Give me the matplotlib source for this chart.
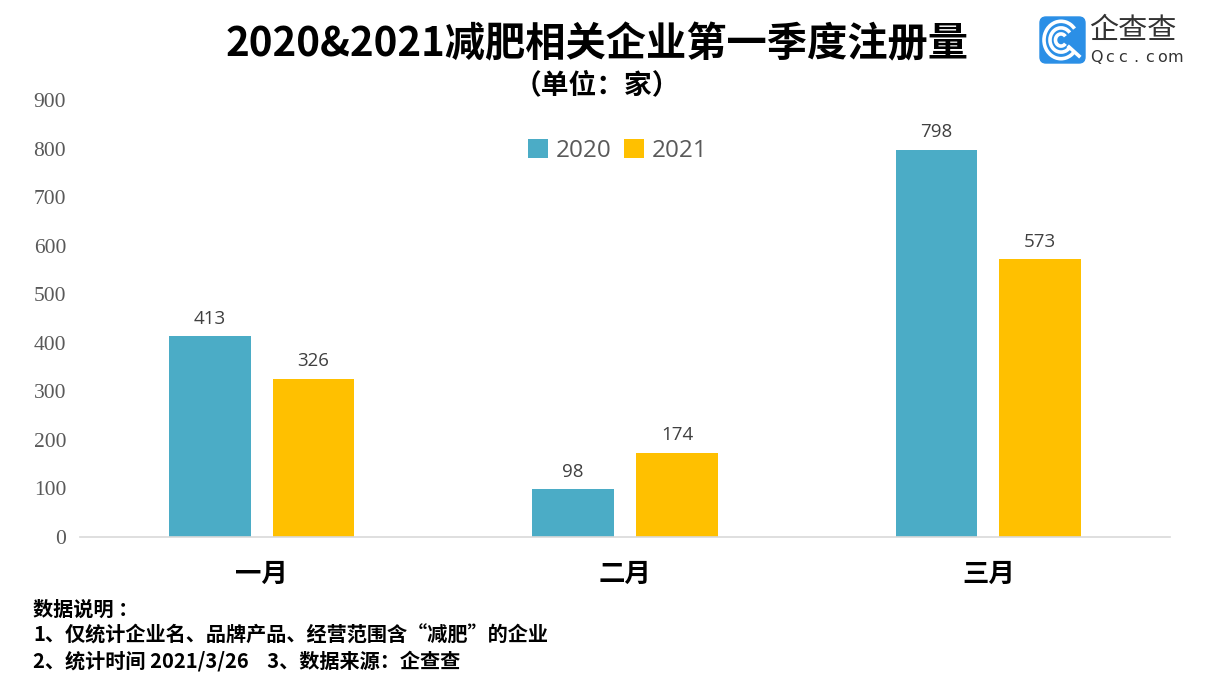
import matplotlib
matplotlib.use("Agg")
import matplotlib.pyplot as plt
import numpy as np
from matplotlib.patches import FancyBboxPatch, Arc

plt.rcParams['font.family'] = ['Noto Sans CJK SC', 'DejaVu Sans']

# datos
meses = ["一月", "二月", "三月"]
serie_2020 = [413, 98, 798]
serie_2021 = [326, 174, 573]
anios = ["2020", "2021"]
yticks = [0, 100, 200, 300, 400, 500, 600, 700, 800, 900]

c2020 = "#4BACC6"
c2021 = "#FFC000"

fig = plt.figure(figsize=(12.1, 6.99), dpi=100)
ax = fig.add_axes([80/1210, 162/699, 1090/1210, 437/699])

x = np.arange(len(meses))
w = 0.225
b1 = ax.bar(x - 0.143, serie_2020, width=w, color=c2020, label=anios[0], zorder=2)
b2 = ax.bar(x + 0.143, serie_2021, width=w, color=c2021, label=anios[1], zorder=2)

for barras in (b1, b2):
    for r in barras:
        ax.text(r.get_x() + r.get_width()/2, r.get_height() + 17, str(int(r.get_height())),
                ha="center", va="bottom", fontsize=13.5, color="#404040",
                family=["Open Sans", "DejaVu Sans"])

ax.set_xlim(-0.5, 2.5)
ax.set_ylim(0, 900)
ax.set_yticks(yticks)
ax.set_yticklabels([str(v) for v in yticks], family="Liberation Serif", fontsize=15.5, color="#595959")
ax.set_xticks(x)
ax.set_xticklabels(meses, fontsize=19, fontweight="bold", color="black")
ax.tick_params(axis="both", length=0)
ax.tick_params(axis="x", pad=17)
ax.tick_params(axis="y", pad=10)
for s in ["top", "right", "left"]:
    ax.spines[s].set_visible(False)
ax.spines["bottom"].set_color("#D9D9D9")
ax.spines["bottom"].set_linewidth(1.2)

leg = ax.legend(loc="center", bbox_to_anchor=(538/1090, 1 - (151-100)/437), ncol=2, frameon=False,
                handlelength=0.8, handleheight=0.8, handletextpad=0.35, columnspacing=0.5,
                prop={"family": ["Open Sans", "DejaVu Sans"], "size": 17.5})
for t in leg.get_texts():
    t.set_color("#595959")

# titulos
fig.text(597/1210, 1 - 45/699, "2020&2021减肥相关企业第一季度注册量", ha="center", va="center",
         fontsize=29, fontweight="bold", color="black")
fig.text(597/1210, 1 - 85/699, "（单位：家）", ha="center", va="center",
         fontsize=20, fontweight="bold", color="black")

# notas
notas = ["数据说明 ：", "1、仅统计企业名、品牌产品、经营范围含“减肥”的企业",
         "2、统计时间 2021/3/26    3、数据来源：企查查"]
for i, n in enumerate(notas):
    fig.text(33/1210, 1 - (609 + 26*i)/699, n, ha="left", va="center",
             fontsize=14.5, fontweight="bold", color="black")

# logo
lx = fig.add_axes([1030/1210, 1 - 80/699, 180/1210, 80/699])
lx.set_xlim(0, 180)
lx.set_ylim(80, 0)
lx.axis("off")
lx.add_patch(FancyBboxPatch((10, 17), 45, 46, boxstyle="round,pad=0,rounding_size=6",
                            color="#2B8FE6"))
for r in (34, 22, 11):
    lx.add_patch(Arc((31, 40), r, r * 1.1, theta1=40, theta2=320, color="white", lw=2.6))
lx.plot([39, 49], [47, 56], color="white", lw=2.6)
lx.text(59, 31, "企查查", fontsize=21, color="#333333", va="center", ha="left")
for i, ch in enumerate("Qcc.com"):
    lx.text(66 + i * 13.3, 57, ch, fontsize=11.5, color="#333333", va="center", ha="center",
            family=["DejaVu Sans"])

fig.savefig("out.png", dpi=100)
